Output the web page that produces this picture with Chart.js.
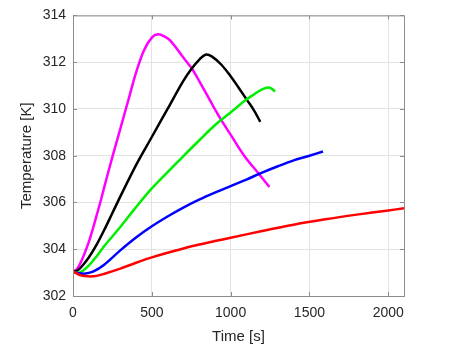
<!DOCTYPE html>
<html>
<head>
<meta charset="utf-8">
<script src="https://cdn.jsdelivr.net/npm/chart.js@4.4.1/dist/chart.umd.min.js"></script>
<style>
  html, body { margin: 0; padding: 0; background: #fff; }
  #wrap { width: 455px; height: 346px; }
</style>
</head>
<body>
<div id="wrap"><canvas id="tempChart" width="455" height="346"></canvas></div>
<script>
// time [s] and temperature [K], one pair of arrays per run
const magentaTime = [0, 25, 50, 75, 100, 125, 150, 175, 200, 250, 300, 350, 400, 450, 500, 540, 580, 620, 700, 757, 800, 850, 895, 938, 1000, 1086, 1182, 1246];
const magentaTemp = [303.05, 303.15, 303.45, 303.85, 304.3, 304.85, 305.45, 306.05, 306.7, 307.95, 309.15, 310.35, 311.55, 312.5, 313.05, 313.19, 313.1, 312.9, 312.2, 311.7, 311.2, 310.6, 310.05, 309.55, 308.9, 308.0, 307.2, 306.66];

const blackTime = [0, 25, 50, 100, 150, 200, 250, 300, 400, 500, 600, 700, 750, 800, 840, 880, 940, 1000, 1050, 1100, 1150, 1188];
const blackTemp = [303.05, 303.08, 303.22, 303.65, 304.2, 304.85, 305.55, 306.25, 307.6, 308.8, 310.0, 311.2, 311.7, 312.1, 312.32, 312.25, 311.9, 311.4, 310.92, 310.42, 309.92, 309.45];

const greenTime = [0, 25, 50, 100, 150, 200, 300, 400, 500, 600, 700, 800, 900, 1000, 1100, 1150, 1200, 1240, 1262, 1282];
const greenTemp = [303.05, 303.0, 303.02, 303.3, 303.7, 304.15, 304.95, 305.8, 306.6, 307.3, 307.98, 308.65, 309.3, 309.85, 310.4, 310.63, 310.84, 310.92, 310.86, 310.74];

const blueTime = [0, 40, 80, 130, 200, 300, 400, 500, 600, 700, 800, 900, 1000, 1100, 1200, 1300, 1400, 1500, 1586];
const blueTemp = [303.05, 302.97, 302.96, 303.05, 303.35, 303.95, 304.5, 304.98, 305.4, 305.78, 306.12, 306.42, 306.7, 306.98, 307.28, 307.55, 307.8, 308.0, 308.18];

const redTime = [0, 50, 100, 150, 200, 300, 400, 500, 600, 700, 800, 900, 1000, 1200, 1400, 1600, 1800, 2000, 2100];
const redTemp = [303.05, 302.88, 302.84, 302.86, 302.95, 303.17, 303.42, 303.65, 303.85, 304.03, 304.2, 304.35, 304.49, 304.78, 305.05, 305.28, 305.48, 305.66, 305.75];

const xTicks = [0, 500, 1000, 1500, 2000];
const xMax = 2100;
const yTicks = [302, 304, 306, 308, 310, 312, 314];

const textColor = "#262626";
const boxColor = "#8c8c8c";
const gridColor = "#e3e3e3";
const fontFamily = "Liberation Sans, Arial, sans-serif";

function toPoints(xs, ys) {
  return xs.map((x, i) => ({ x: x, y: ys[i] }));
}

function series(xs, ys, color) {
  return {
    data: toPoints(xs, ys),
    borderColor: color,
    borderWidth: 2.5,
    pointRadius: 0,
    fill: false,
    tension: 0.35
  };
}

// small inward tick marks on all four sides, like the original
const innerTicks = {
  id: "innerTicks",
  afterDatasetsDraw(chart) {
    const { ctx, chartArea: a, scales: { x, y } } = chart;
    ctx.save();
    ctx.strokeStyle = boxColor;
    ctx.lineWidth = 1;
    ctx.beginPath();
    x.ticks.forEach(t => {
      const px = Math.round(x.getPixelForValue(t.value)) + 0.5;
      ctx.moveTo(px, a.bottom); ctx.lineTo(px, a.bottom - 4);
      ctx.moveTo(px, a.top); ctx.lineTo(px, a.top + 4);
    });
    y.ticks.forEach(t => {
      const py = Math.round(y.getPixelForValue(t.value)) + 0.5;
      ctx.moveTo(a.left, py); ctx.lineTo(a.left + 4, py);
      ctx.moveTo(a.right, py); ctx.lineTo(a.right - 4, py);
    });
    ctx.stroke();
    ctx.strokeRect(a.left + 0.5, a.top + 0.5, a.right - a.left, a.bottom - a.top);
    ctx.restore();
  }
};

function initTempChart() {
  const el = document.getElementById("tempChart");
  if (!el) return console.error("tempChart canvas not found");
  new Chart(el.getContext("2d"), {
    type: "line",
    data: {
      datasets: [
        series(redTime, redTemp, "#ff0000"),
        series(blueTime, blueTemp, "#0000ff"),
        series(greenTime, greenTemp, "#00ee00"),
        series(blackTime, blackTemp, "#000000"),
        series(magentaTime, magentaTemp, "#ff00ff")
      ]
    },
    options: {
      responsive: false,
      animation: false,
      layout: { padding: { top: 10, right: 51, left: 16, bottom: 0 } },
      plugins: { legend: { display: false }, tooltip: { enabled: false } },
      scales: {
        x: {
          type: "linear",
          min: xTicks[0],
          max: xMax,
          grid: { color: gridColor, drawTicks: false },
          border: { color: boxColor },
          afterBuildTicks(scale) { scale.ticks = xTicks.map(v => ({ value: v })); },
          ticks: {
            color: textColor,
            padding: 9,
            maxRotation: 0,
            autoSkip: false,
            callback: v => String(v),
            font: { family: fontFamily, size: 14 }
          },
          title: {
            display: true,
            text: "Time [s]",
            color: textColor,
            padding: { top: 2, bottom: 0 },
            font: { family: fontFamily, size: 15 }
          },
          afterFit(scale) { scale.height = 50; }
        },
        y: {
          type: "linear",
          min: yTicks[0],
          max: yTicks[yTicks.length - 1],
          grid: { color: gridColor, drawTicks: false },
          border: { color: boxColor },
          afterBuildTicks(scale) { scale.ticks = yTicks.map(v => ({ value: v })); },
          ticks: {
            color: textColor,
            padding: 7,
            callback: v => String(v),
            font: { family: fontFamily, size: 14 }
          },
          title: {
            display: true,
            text: "Temperature [K]",
            color: textColor,
            padding: { top: 2, bottom: 0 },
            font: { family: fontFamily, size: 15 }
          },
          afterFit(scale) { scale.width = 57; }
        }
      }
    },
    plugins: [innerTicks]
  });
}

document.addEventListener("DOMContentLoaded", initTempChart);
</script>
</body>
</html>
